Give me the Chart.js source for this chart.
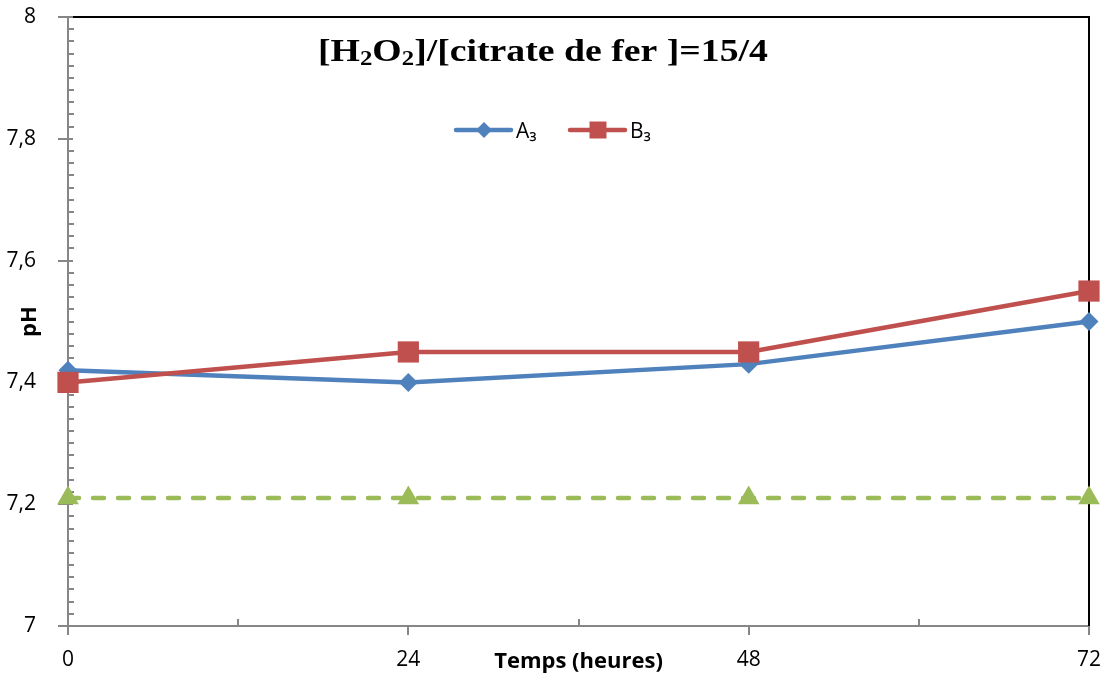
<!DOCTYPE html>
<html>
<head>
<meta charset="utf-8">
<script src="https://cdn.jsdelivr.net/npm/chart.js@4.4.1/dist/chart.umd.min.js"></script>
<style>
  html, body { margin: 0; padding: 0; background: #fff; }
  #wrap { width: 1110px; height: 679px; }
</style>
</head>
<body>
<div id="wrap"><canvas id="phChart" width="1110" height="679"></canvas></div>
<script>
// temps en heures et pH mesure
const heures = [0, 24, 48, 72];
const serieA3 = [7.42, 7.40, 7.43, 7.50];
const serieB3 = [7.40, 7.45, 7.45, 7.55];
const serieRef = [7.21, 7.21, 7.21, 7.21];
const xTicksMinor = [12, 36, 60];
const titreParts = [['[H', false], ['2', true], ['O', false], ['2', true], [']/[citrate de fer ]=15/4', false]];

const BLEU = '#4F81BD', ROUGE = '#C0504D', VERT = '#9BBB59', GRIS = '#868686';
const tickFont = { family: 'Open Sans', size: 21 };
const axeFont = { family: 'Open Sans', size: 22, weight: 'bold' };

const toPts = (vals) => heures.map((h, i) => ({ x: h, y: vals[i] }));

// bordure, graduations, titre et legende dessines a la main (style Excel)
const decor = {
  id: 'decor',
  beforeDatasetsDraw(chart) {
    const { ctx, chartArea: a, scales: { x, y } } = chart;
    ctx.save();
    ctx.strokeStyle = '#000';
    ctx.lineWidth = 2;
    ctx.beginPath();
    ctx.moveTo(a.left, a.top);
    ctx.lineTo(a.right, a.top);
    ctx.lineTo(a.right, a.bottom);
    ctx.stroke();

    ctx.strokeStyle = GRIS;
    ctx.lineWidth = 2;
    ctx.beginPath();
    y.ticks.forEach((t) => {
      const py = Math.round(y.getPixelForValue(t.value));
      ctx.moveTo(a.left - 10, py);
      ctx.lineTo(a.left + 5, py);
    });
    for (let k = 1; k < 50; k++) {
      if (k % 10 === 0) continue;
      const py = Math.round(y.getPixelForValue(y.min + k * 0.02));
      ctx.moveTo(a.left, py);
      ctx.lineTo(a.left + 6, py);
    }
    x.ticks.forEach((t) => {
      const px = Math.round(x.getPixelForValue(t.value));
      ctx.moveTo(px, a.bottom);
      ctx.lineTo(px, a.bottom + 9);
    });
    xTicksMinor.forEach((v) => {
      const px = Math.round(x.getPixelForValue(v));
      ctx.moveTo(px, a.bottom);
      ctx.lineTo(px, a.bottom - 7);
    });
    ctx.stroke();
    ctx.restore();
  },
  afterDraw(chart) {
    const { ctx } = chart;
    ctx.save();
    // titre avec indices (image d'origine etiree horizontalement)
    const big = 'bold 32px "Liberation Serif"', small = 'bold 21px "Liberation Serif"';
    const sx = 1.18;
    let w = 0;
    titreParts.forEach(([t, sub]) => { ctx.font = sub ? small : big; w += ctx.measureText(t).width; });
    ctx.save();
    ctx.translate(543 - (w * sx) / 2, 0);
    ctx.scale(sx, 1);
    let tx = 0;
    ctx.fillStyle = '#000';
    ctx.textBaseline = 'alphabetic';
    titreParts.forEach(([t, sub]) => {
      ctx.font = sub ? small : big;
      ctx.fillText(t, tx, sub ? 65 : 61);
      tx += ctx.measureText(t).width;
    });
    ctx.restore();

    // legende
    const items = chart.data.datasets.filter((d) => d.enLegende);
    let lx = 456;
    const ly = 130;
    ctx.font = '21px "Open Sans"';
    ctx.textBaseline = 'middle';
    items.forEach((d) => {
      ctx.strokeStyle = d.borderColor;
      ctx.lineWidth = 4.5;
      ctx.lineCap = 'round';
      ctx.beginPath();
      ctx.moveTo(lx, ly);
      ctx.lineTo(lx + 55, ly);
      ctx.stroke();
      ctx.fillStyle = d.backgroundColor;
      ctx.beginPath();
      if (d.pointStyle === 'rect') {
        ctx.rect(lx + 28 - 8.5, ly - 8.5, 17, 17);
      } else {
        ctx.moveTo(lx + 28, ly - 8); ctx.lineTo(lx + 36, ly); ctx.lineTo(lx + 28, ly + 8); ctx.lineTo(lx + 20, ly);
        ctx.closePath();
      }
      ctx.fill();
      ctx.fillStyle = '#000';
      ctx.fillText(d.label, lx + 60, ly + 2);
      lx += 114;
    });
    ctx.restore();
  }
};

new Chart(document.getElementById('phChart'), {
  type: 'line',
  data: {
    datasets: [
      { label: 'A₃', data: toPts(serieA3), borderColor: BLEU, backgroundColor: BLEU, borderWidth: 4.5,
        pointStyle: 'rectRot', pointRadius: 9.5, pointBorderWidth: 0, enLegende: true, clip: false, order: 2 },
      { label: 'B₃', data: toPts(serieB3), borderColor: ROUGE, backgroundColor: ROUGE, borderWidth: 4.5,
        pointStyle: 'rect', pointRadius: 15, pointBorderWidth: 0, enLegende: true, clip: false, order: 1 },
      { label: 'Témoin', data: toPts(serieRef), borderColor: VERT, backgroundColor: VERT, borderWidth: 4.5,
        borderDash: [11, 14], borderCapStyle: 'round', pointStyle: 'triangle', pointRadius: 12.5,
        pointBorderWidth: 0, enLegende: false, clip: false, order: 3 }
    ]
  },
  options: {
    responsive: false,
    animation: false,
    layout: { padding: { top: 17, right: 21, left: 0, bottom: 0 } },
    plugins: { legend: { display: false }, title: { display: false }, tooltip: { enabled: false } },
    elements: { line: { tension: 0 } },
    scales: {
      x: {
        type: 'linear', min: 0, max: 72,
        ticks: { stepSize: 24, color: '#000', font: tickFont, padding: 13, maxRotation: 0 },
        grid: { display: false },
        border: { display: true, color: GRIS, width: 2 },
        title: { display: true, text: 'Temps (heures)', color: '#000', font: axeFont, padding: { top: 0, bottom: 4 } },
        afterFit: (s) => { s.height = 53; s.paddingLeft = 0; s.paddingRight = 0; }
      },
      y: {
        min: 7, max: 8,
        ticks: { stepSize: 0.2, color: '#000', font: tickFont, padding: 24,
          callback: (v) => String(Number(v.toFixed(2))).replace('.', ',') },
        grid: { display: false },
        border: { display: true, color: GRIS, width: 2 },
        title: { display: true, text: 'pH', color: '#000', font: axeFont, padding: { top: 17, bottom: 0 } },
        afterFit: (s) => { s.width = 68; s.paddingTop = 0; s.paddingBottom = 0; }
      }
    }
  },
  plugins: [decor]
});
</script>
</body>
</html>
